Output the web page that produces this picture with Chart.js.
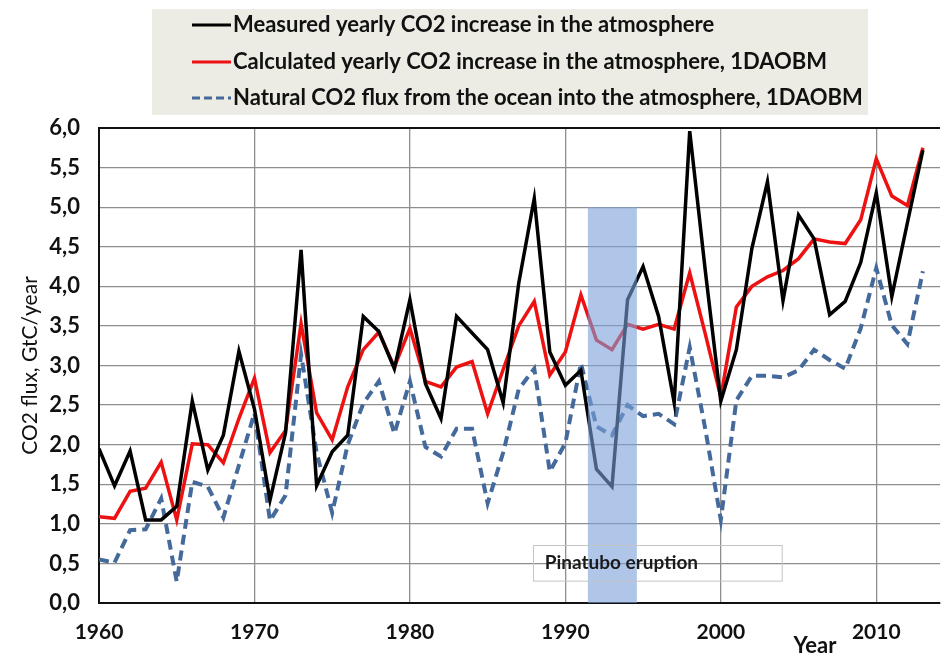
<!DOCTYPE html>
<html>
<head>
<meta charset="utf-8">
<script src="https://cdn.jsdelivr.net/npm/chart.js@4.4.1/dist/chart.umd.min.js"></script>
<style>
  html, body { margin: 0; padding: 0; background: #ffffff; }
  #wrap { width: 943px; height: 658px; position: relative; }
</style>
</head>
<body>
<div id="wrap"><canvas id="c" width="943" height="658"></canvas></div>
<script>
// Years 1960–2013
const years = [
  1960, 1961, 1962, 1963, 1964, 1965, 1966, 1967, 1968, 1969,
  1970, 1971, 1972, 1973, 1974, 1975, 1976, 1977, 1978, 1979,
  1980, 1981, 1982, 1983, 1984, 1985, 1986, 1987, 1988, 1989,
  1990, 1991, 1992, 1993, 1994, 1995, 1996, 1997, 1998, 1999,
  2000, 2001, 2002, 2003, 2004, 2005, 2006, 2007, 2008, 2009,
  2010, 2011, 2012, 2013
];

// Measured yearly CO2 increase in the atmosphere, GtC/year
const measured = [
  1.95, 1.48, 1.92, 1.05, 1.05, 1.22, 2.55, 1.68, 2.12, 3.18,
  2.45, 1.30, 2.15, 4.46, 1.48, 1.91, 2.12, 3.62, 3.43, 2.96,
  3.83, 2.77, 2.33, 3.62, 3.41, 3.20, 2.53, 4.04, 5.11, 3.17,
  2.75, 2.94, 1.69, 1.47, 3.83, 4.25, 3.62, 2.53, 5.96, 4.20,
  2.55, 3.20, 4.48, 5.32, 3.82, 4.90, 4.60, 3.64, 3.81, 4.30,
  5.18, 3.87, 4.80, 5.72
];

// Calculated yearly CO2 increase in the atmosphere (1DAOBM), GtC/year
const calculated = [
  1.09, 1.07, 1.41, 1.45, 1.78, 1.05, 2.01, 2.00, 1.77, 2.33,
  2.84, 1.90, 2.18, 3.53, 2.40, 2.06, 2.73, 3.20, 3.42, 2.98,
  3.47, 2.80, 2.73, 2.98, 3.05, 2.39, 2.95, 3.50, 3.81, 2.88,
  3.17, 3.89, 3.32, 3.20, 3.52, 3.46, 3.52, 3.46, 4.17, 3.40,
  2.60, 3.74, 4.00, 4.12, 4.20, 4.35, 4.60, 4.56, 4.54, 4.84,
  5.61, 5.14, 5.02, 5.75
];

// Natural CO2 flux from the ocean into the atmosphere (1DAOBM), GtC/year
const oceanFlux = [
  0.55, 0.51, 0.92, 0.93, 1.32, 0.27, 1.53, 1.47, 1.08, 1.74,
  2.40, 1.04, 1.36, 3.14, 1.90, 1.14, 2.00, 2.52, 2.80, 2.14,
  2.80, 1.97, 1.85, 2.20, 2.20, 1.26, 1.90, 2.70, 2.96, 1.66,
  2.02, 3.03, 2.23, 2.12, 2.50, 2.36, 2.39, 2.26, 3.23, 2.20,
  1.05, 2.56, 2.87, 2.87, 2.85, 2.94, 3.20, 3.07, 2.96, 3.47,
  4.23, 3.51, 3.27, 4.19
];

const seriesLabels = [
  'Measured yearly CO2 increase in the atmosphere',
  'Calculated yearly CO2 increase in the atmosphere, 1DAOBM',
  'Natural CO2 flux from the ocean into the atmosphere, 1DAOBM'
];

const xTickLabels = ['1960', '1970', '1980', '1990', '2000', '2010'];
const yTickLabels = ['0,0', '0,5', '1,0', '1,5', '2,0', '2,5', '3,0',
                     '3,5', '4,0', '4,5', '5,0', '5,5', '6,0'];

// Pinatubo eruption period (years) and band height (GtC/year)
const eruptionSpan = [1991.45, 1994.6];
const eruptionTop = [5.0];
const eruptionText = 'Pinatubo eruption';
// extent of the labelled note box, in axis units: [x0, x1], [y0, y1]
const noteBoxX = [1987.9, 2003.9];
const noteBoxY = [0.28, 0.73];

const FONT = 'Lato, "Open Sans", "DejaVu Sans", sans-serif';

const toPoints = vals => vals.map((v, i) => ({ x: years[i], y: v }));

// Pinatubo band, drawn over the lines with transparency
const bandPlugin = {
  id: 'eruptionBand',
  afterDatasetsDraw(chart) {
    const { ctx, scales: { x, y } } = chart;
    const x0 = x.getPixelForValue(eruptionSpan[0]);
    const x1 = x.getPixelForValue(eruptionSpan[1]);
    const yTop = y.getPixelForValue(eruptionTop[0]);
    const yBot = y.getPixelForValue(0);
    ctx.save();
    ctx.fillStyle = 'rgba(122,160,216,0.6)';
    ctx.fillRect(x0, yTop, x1 - x0, yBot - yTop);
    ctx.restore();
  }
};

// Legend panel, note box and the "Year" label
const decorPlugin = {
  id: 'decor',
  afterDraw(chart) {
    const { ctx, scales: { x, y } } = chart;
    ctx.save();

    // note box
    const bx0 = x.getPixelForValue(noteBoxX[0]);
    const bx1 = x.getPixelForValue(noteBoxX[1]);
    const by0 = y.getPixelForValue(noteBoxY[1]);
    const by1 = y.getPixelForValue(noteBoxY[0]);
    ctx.strokeStyle = '#c4c4c4';
    ctx.lineWidth = 1;
    ctx.strokeRect(Math.round(bx0) + 0.5, Math.round(by0) + 0.5, bx1 - bx0, by1 - by0);
    ctx.fillStyle = '#1a1a1a';
    ctx.font = 'bold 19px ' + FONT;
    ctx.textBaseline = 'middle';
    ctx.textAlign = 'left';
    ctx.fillText(eruptionText, bx0 + 12, (by0 + by1) / 2);

    // legend panel
    ctx.fillStyle = '#ecebe4';
    ctx.fillRect(152, 9, 716, 106);
    const rows = [25, 62, 98];
    chart.data.datasets.forEach((ds, i) => {
      const yy = rows[i];
      ctx.beginPath();
      ctx.strokeStyle = ds.borderColor;
      ctx.lineWidth = 3;
      ctx.setLineDash(ds.borderDash ? [8, 4] : []);
      ctx.moveTo(192, yy);
      ctx.lineTo(231, yy);
      ctx.stroke();
      ctx.setLineDash([]);
      ctx.fillStyle = '#111111';
      ctx.font = 'bold 22px ' + FONT;
      ctx.textBaseline = 'middle';
      ctx.textAlign = 'left';
      ctx.fillText(ds.label, 233, yy);
    });

    // x-axis title
    ctx.fillStyle = '#111111';
    ctx.font = 'bold 22px ' + FONT;
    ctx.textAlign = 'center';
    ctx.textBaseline = 'middle';
    ctx.fillText('Year', 815, 646);
    ctx.restore();
  }
};

new Chart(document.getElementById('c'), {
  type: 'line',
  data: {
    datasets: [
      {
        label: seriesLabels[0],
        data: toPoints(measured),
        borderColor: '#000000',
        borderWidth: 3.5,
        pointRadius: 0,
        tension: 0,
        order: 1
      },
      {
        label: seriesLabels[1],
        data: toPoints(calculated),
        borderColor: '#ee1111',
        borderWidth: 3.5,
        pointRadius: 0,
        tension: 0,
        order: 2
      },
      {
        label: seriesLabels[2],
        data: toPoints(oceanFlux),
        borderColor: '#44699b',
        borderWidth: 4,
        borderDash: [10, 6],
        pointRadius: 0,
        tension: 0,
        order: 3
      }
    ]
  },
  options: {
    responsive: false,
    animation: false,
    layout: { padding: { top: 128, right: 3, left: 0, bottom: 0 } },
    plugins: {
      legend: { display: false },
      tooltip: { enabled: false }
    },
    scales: {
      x: {
        type: 'linear',
        min: 1960,
        max: 2014.1,
        afterFit(scale) { scale.height = 55; },
        ticks: {
          stepSize: 10,
          includeBounds: false,
          padding: 17,
          color: '#111111',
          font: { family: FONT, size: 21, weight: 'bold' },
          maxRotation: 0,
          callback: (v) => xTickLabels[(v - 1960) / 10]
        },
        grid: {
          drawTicks: false,
          color: '#8e8e8e',
          lineWidth: 1.3
        },
        border: { display: true, color: '#111111', width: 2 }
      },
      y: {
        min: 0,
        max: 6,
        afterFit(scale) { scale.width = 99; },
        ticks: {
          stepSize: 0.5,
          padding: 19,
          color: '#111111',
          font: { family: FONT, size: 22, weight: 'bold' },
          callback: (v) => yTickLabels[Math.round(v * 2)]
        },
        grid: {
          drawTicks: false,
          color: (c) => (c.tick && c.tick.value === 6 ? '#111111' : '#8e8e8e'),
          lineWidth: (c) => (c.tick && c.tick.value === 6 ? 2 : 1.3)
        },
        border: { display: true, color: '#111111', width: 2 },
        title: {
          display: true,
          text: 'CO2 flux, GtC/year',
          color: '#111111',
          font: { family: FONT, size: 21, weight: 'normal' },
          padding: { top: 18, bottom: 0 }
        }
      }
    }
  },
  plugins: [bandPlugin, decorPlugin]
});
</script>
</body>
</html>
